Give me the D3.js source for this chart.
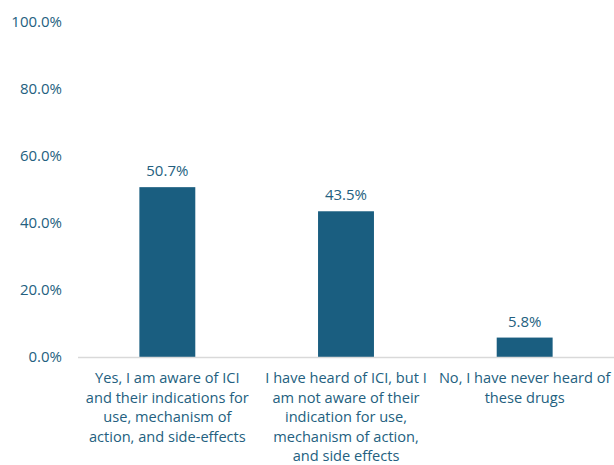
<!DOCTYPE html>
<html>
<head>
<meta charset="utf-8">
<script src="https://cdn.jsdelivr.net/npm/d3@7"></script>
<style>
  html, body { margin: 0; padding: 0; background: #fff; }
  svg { display: block; }
  text { font-family: "Open Sans", "Noto Sans", sans-serif; }
</style>
</head>
<body>
<svg id="chart" width="614" height="465"></svg>
<script>
// Survey responses: awareness of immune checkpoint inhibitors (ICI)
const categories = [
  ["Yes, I am aware of ICI", "and their indications for", "use, mechanism of", "action, and side-effects"],
  ["I have heard of ICI, but I", "am not aware of their", "indication for use,", "mechanism of action,", "and side effects"],
  ["No, I have never heard of", "these drugs"]
];
const values = [50.7, 43.5, 5.8];
const tickValues = [0, 20, 40, 60, 80, 100];

const textColor = "#245f80";
const barColor = "#1a5e80";

const svg = d3.select("#chart");
const margin = { left: 78, right: 0, top: 22, bottom: 108 };
const width = 614, height = 465;

const x = d3.scaleBand()
  .domain(d3.range(values.length))
  .range([margin.left, width - margin.right])
  .paddingInner(0.687)
  .paddingOuter(0.3435);

const y = d3.scaleLinear()
  .domain([0, 100])
  .range([height - margin.bottom, margin.top]);

// Y axis labels (no axis line or gridlines)
const yAxis = d3.axisLeft(y)
  .tickValues(tickValues)
  .tickFormat(d => d.toFixed(1) + "%")
  .tickSize(0)
  .tickPadding(0);

svg.append("g")
  .attr("transform", `translate(62,0)`)
  .call(yAxis)
  .call(g => g.select(".domain").remove())
  .selectAll("text")
  .attr("fill", textColor)
  .style("font-size", "15px")
  .style("font-family", "'Open Sans', 'Noto Sans', sans-serif");

// Bars
svg.append("g").selectAll("rect")
  .data(values)
  .join("rect")
  .attr("x", (d, i) => x(i))
  .attr("y", d => y(d))
  .attr("width", x.bandwidth())
  .attr("height", d => y(0) - y(d))
  .attr("fill", barColor);

// Baseline
svg.append("line")
  .attr("x1", margin.left)
  .attr("x2", width)
  .attr("y1", y(0) + 0.5)
  .attr("y2", y(0) + 0.5)
  .attr("stroke", "#d9d9d9")
  .attr("stroke-width", 1.5);

// Value labels
svg.append("g").selectAll("text")
  .data(values)
  .join("text")
  .attr("x", (d, i) => x(i) + x.bandwidth() / 2)
  .attr("y", d => y(d) - 11)
  .attr("text-anchor", "middle")
  .attr("fill", textColor)
  .style("font-size", "15px")
  .text(d => d.toFixed(1) + "%");

// Category labels, wrapped into lines
const catG = svg.append("g").selectAll("text")
  .data(categories)
  .join("text")
  .attr("text-anchor", "middle")
  .attr("fill", textColor)
  .style("font-size", "14.6px")
  .attr("transform", (d, i) => `translate(${x(i) + x.bandwidth() / 2},${y(0) + 26})`);

catG.selectAll("tspan")
  .data(d => d)
  .join("tspan")
  .attr("x", 0)
  .attr("y", (d, j) => j * 19.6)
  .text(d => d);
</script>
</body>
</html>
